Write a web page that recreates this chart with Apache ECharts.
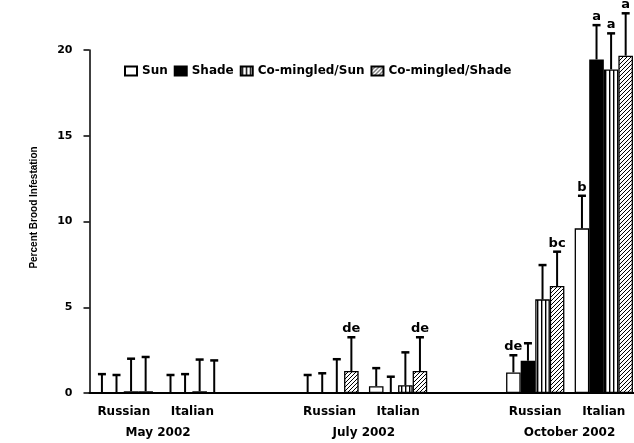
<!DOCTYPE html>
<html><head><meta charset="utf-8">
<script src="https://cdn.jsdelivr.net/npm/echarts@6/dist/echarts.min.js"></script>
<style>html,body{margin:0;padding:0;background:#fff}#c{width:634px;height:443px}</style>
</head><body><div id="c"></div>
<script>
// ---- data ----
const categories = ['Russian', 'Italian', '', 'Russian', 'Italian', '', 'Russian', 'Italian'];
const periodNames = ['May 2002', 'July 2002', 'October 2002'];
const periodOfCategory = [0, 0, null, 1, 1, null, 2, 2];
const seriesNames = ['Sun', 'Shade', 'Co-mingled/Sun', 'Co-mingled/Shade'];

const sunValues     = [0.05, 0.05, null, 0.03, 0.4,  null, 1.2,  9.6];
const shadeValues   = [0.05, 0.05, null, 0.05, 0.05, null, 1.88, 19.45];
const cmSunValues   = [0.1,  0.1,  null, 0.05, 0.45, null, 5.46, 18.87];
const cmShadeValues = [0.1,  0.05, null, 1.28, 1.28, null, 6.24, 19.67];

const sunSE     = [1.05, 1.0,  null, 1.02, 1.05, null, 1.0,  1.9];
const shadeSE   = [1.0,  1.05, null, 1.1,  0.9,  null, 1.02, 2.0];
const cmSunSE   = [1.9,  1.85, null, 1.92, 1.92, null, 2.0,  2.1];
const cmShadeSE = [2.0,  1.85, null, 1.97, 1.97, null, 2.0,  2.47];

const sunLetters     = ['', '', '', '', '', '', 'de', 'b'];
const shadeLetters   = ['', '', '', '', '', '', '', 'a'];
const cmSunLetters   = ['', '', '', '', '', '', '', 'a'];
const cmShadeLetters = ['', '', '', 'de', 'de', '', 'bc', 'a'];

const yTickValues = [0, 5, 10, 15, 20];

// ---- patterns ----
function makePattern(kind) {
  const c = document.createElement('canvas');
  c.width = 4; c.height = 4;
  const g = c.getContext('2d');
  g.fillStyle = '#fff'; g.fillRect(0, 0, 4, 4);
  g.strokeStyle = '#000'; g.fillStyle = '#000';
  if (kind === 'v') {
    g.fillRect(1, 0, 1.4, 4);
  } else {
    g.lineWidth = 1;
    g.beginPath();
    g.moveTo(0, 4); g.lineTo(4, 0);
    g.moveTo(-1, 1); g.lineTo(1, -1);
    g.moveTo(3, 5); g.lineTo(5, 3);
    g.stroke();
  }
  return { image: c, repeat: 'repeat' };
}

const allValues = [sunValues, shadeValues, cmSunValues, cmShadeValues];
const allSE = [sunSE, shadeSE, cmSunSE, cmShadeSE];
const allLetters = [sunLetters, shadeLetters, cmSunLetters, cmShadeLetters];
const fills = ['#ffffff', '#000000', makePattern('v'), makePattern('d')];

const FONT = 'DejaVu Sans';
const catGap = 0.15;

const barSeries = seriesNames.map((n, s) => ({
  name: n, type: 'bar', data: allValues[s],
  barGap: '0%', barCategoryGap: (catGap * 100) + '%',
  clip: false,
  itemStyle: { color: fills[s], borderColor: '#000', borderWidth: 1.3 },
  emphasis: { disabled: true }
}));

const errData = [], errLetters = [];
for (let s = 0; s < 4; s++) {
  for (let i = 0; i < categories.length; i++) {
    if (allValues[s][i] == null) continue;
    errData.push([i, allValues[s][i], allSE[s][i], s]);
    errLetters.push(allLetters[s][i]);
  }
}

const errSeries = {
  type: 'custom', clip: false, z: 5,
  encode: { x: 0, y: 1 },
  data: errData,
  renderItem: function (params, api) {
    const i = api.value(0), v = api.value(1), se = api.value(2), s = api.value(3);
    const slot = api.size([1, 0])[0];
    const bw = slot * (1 - catGap) / 4;
    const x = api.coord([i, 0])[0] + (s - 1.5) * bw;
    const yBar = api.coord([i, v])[1];
    const yTop = api.coord([i, v + se])[1];
    const children = [
      { type: 'line', shape: { x1: x, y1: yBar, x2: x, y2: yTop }, style: { stroke: '#000', lineWidth: 2 } },
      { type: 'line', shape: { x1: x - 4, y1: yTop, x2: x + 4, y2: yTop }, style: { stroke: '#000', lineWidth: 2.5 } }
    ];
    const letter = errLetters[params.dataIndex];
    if (letter) {
      children.push({ type: 'text', style: { text: letter, x: x, y: yTop - 2, align: 'center', verticalAlign: 'bottom',
        font: 'bold 13px "' + FONT + '"', fill: '#000' } });
    }
    return { type: 'group', children: children };
  }
};

const chart = echarts.init(document.getElementById('c'), null, { renderer: 'canvas' });
chart.setOption({
  animation: false,
  backgroundColor: '#fff',
  grid: { left: 89.5, width: 548.6, top: 50, bottom: 50, containLabel: false, outerBoundsMode: 'none' },
  legend: {
    data: seriesNames, left: 119, top: 60, itemWidth: 12, itemHeight: 9, itemGap: 6,
    icon: 'rect', selectedMode: false,
    textStyle: { fontFamily: FONT, fontWeight: 'bold', fontSize: 12, color: '#000' }
  },
  xAxis: [
    {
      type: 'category', data: categories, position: 'bottom',
      axisLine: { show: true, lineStyle: { color: '#000', width: 2 } },
      axisTick: { show: false },
      axisLabel: { interval: 0, margin: 13, color: '#000', fontFamily: FONT, fontWeight: 'bold', fontSize: 12 }
    },
    {
      type: 'value', min: 0, max: categories.length, interval: 1, position: 'bottom',
      axisLine: { show: false }, axisTick: { show: false }, splitLine: { show: false },
      axisLabel: {
        margin: 34, color: '#000', fontFamily: FONT, fontWeight: 'bold', fontSize: 12,
        formatter: function (val) {
          for (let p = 0; p < periodNames.length; p++) {
            const idx = [];
            periodOfCategory.forEach((q, k) => { if (q === p) idx.push(k + 0.5); });
            const c = idx.reduce((a, b) => a + b, 0) / idx.length;
            if (Math.abs(c - val) < 1e-6) return periodNames[p];
          }
          return '';
        }
      }
    }
  ],
  yAxis: {
    type: 'value', min: yTickValues[0], max: yTickValues[yTickValues.length - 1], interval: yTickValues[1] - yTickValues[0],
    name: 'Percent Brood Infestation', nameLocation: 'middle', nameGap: 50,
    nameTextStyle: { fontFamily: 'Liberation Sans', fontWeight: 'bold', fontSize: 10, color: '#000', padding: [0, 0, 0, 28] },
    axisLine: { show: true, lineStyle: { color: '#000', width: 1.5 } },
    axisTick: { show: true, length: 6, lineStyle: { color: '#000', width: 1.5 } },
    splitLine: { show: false },
    axisLabel: { margin: 17, color: '#000', fontFamily: FONT, fontWeight: 'bold', fontSize: 11 }
  },
  series: barSeries.concat([errSeries])
});
</script>
</body></html>
